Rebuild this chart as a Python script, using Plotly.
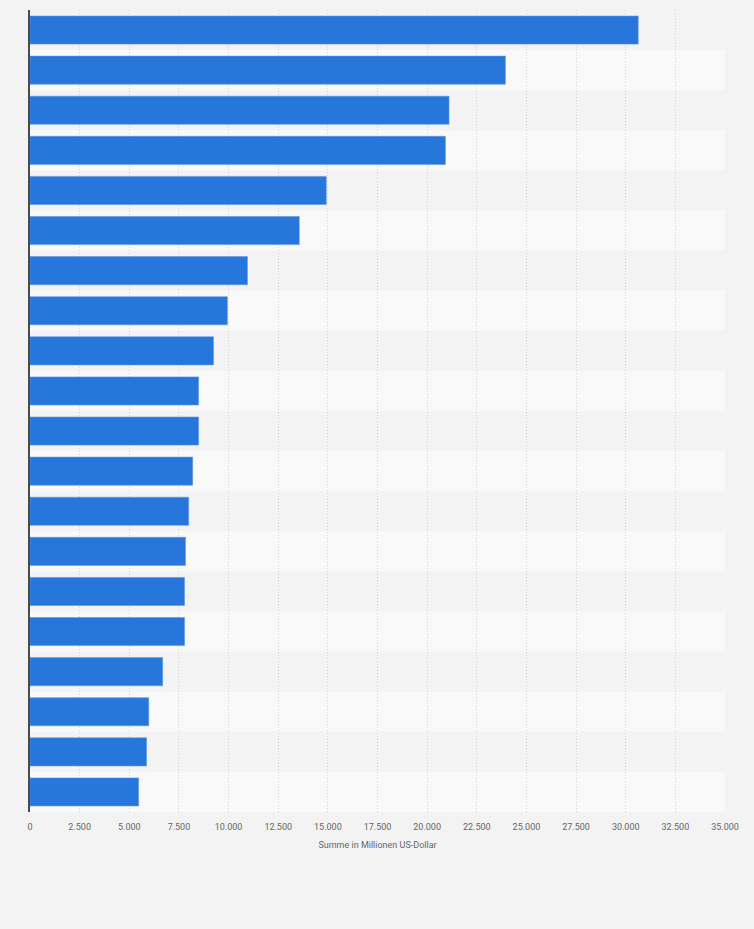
import plotly.graph_objects as go

# Reihenfolge von oben nach unten (Beschriftungen im Original nicht sichtbar)
categories = [f"Rang {i}" for i in range(1, 21)]
values = [30630, 23940, 21100, 20920, 14920, 13560, 10950, 9940, 9240, 8490,
          8490, 8190, 7990, 7830, 7780, 7780, 6680, 5980, 5870, 5470]
x_ticks = list(range(0, 35001, 2500))

BAR_COLOR = "#2676db"
BG = "#f3f3f3"
STRIPE = "#f9f9f9"

fig = go.Figure()

fig.add_trace(go.Bar(
    x=values,
    y=categories,
    orientation="h",
    width=0.7,
    marker=dict(color=BAR_COLOR, line=dict(color="#5a97e6", width=0.6)),
    hovertemplate="%{x:,.0f}<extra></extra>",
))

# alternating row stripes, drawn under the grid lines
shapes = []
for i in range(len(categories)):
    if i % 2 == 1:
        shapes.append(dict(
            type="rect", layer="below",
            xref="x domain", x0=0, x1=1,
            yref="y", y0=i - 0.5, y1=i + 0.5,
            fillcolor=STRIPE, line=dict(width=0),
        ))

fig.update_layout(
    width=754,
    height=929,
    margin=dict(l=30, r=29, t=10, b=117),
    paper_bgcolor=BG,
    plot_bgcolor=BG,
    separators=",.",
    showlegend=False,
    bargap=0.3,
    shapes=shapes,
    font=dict(family="Roboto", size=9, color="#666666"),
)

fig.update_xaxes(
    range=[0, 35000],
    tickvals=x_ticks,
    tickformat=",.0f",
    showgrid=True,
    gridcolor="#d4d4d4",
    griddash="1px,2px",
    gridwidth=1,
    zeroline=False,
    showline=False,
    ticks="outside",
    ticklen=6,
    tickcolor="rgba(0,0,0,0)",
    tickfont=dict(size=9, color="#666666"),
    title=dict(text="Summe in Millionen US-Dollar",
               font=dict(size=9, color="#666666"), standoff=10),
)

fig.update_yaxes(
    autorange="reversed",
    showticklabels=False,
    showgrid=False,
    zeroline=False,
    showline=True,
    linecolor="#4a4a4a",
    linewidth=1.5,
)

# no page margin around the figure
fig.write_html(
    "out.html",
    config={"displayModeBar": False},
    post_script="document.body.style.margin='0';document.body.style.overflow='hidden';",
)
